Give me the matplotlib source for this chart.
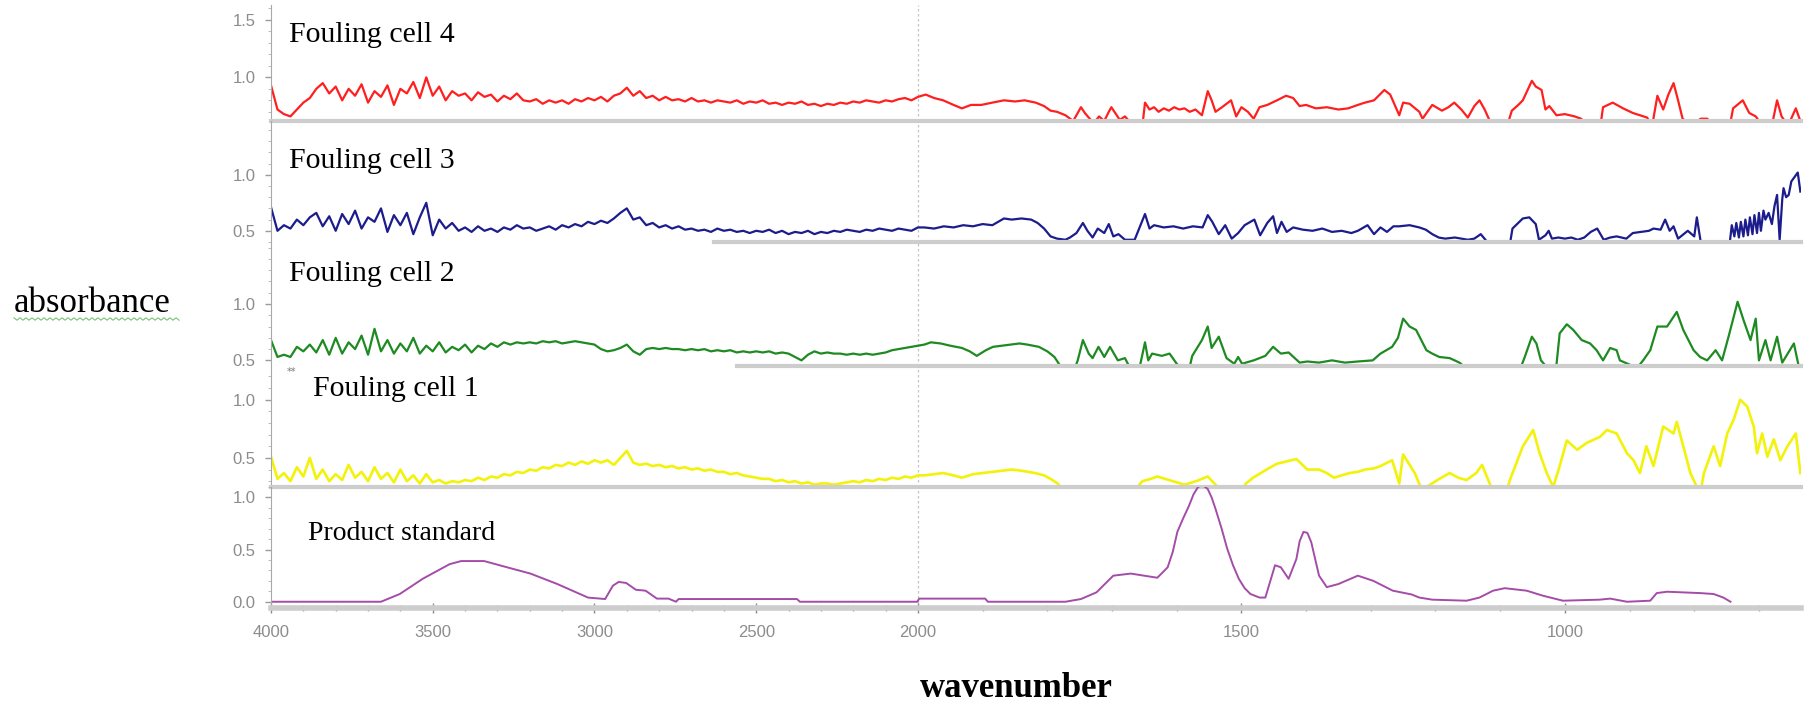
import numpy as np
import matplotlib
matplotlib.use('Agg')
import matplotlib.pyplot as plt
from matplotlib.lines import Line2D
from matplotlib.ticker import MultipleLocator

#############
# data (absorbance vs wavenumber)
#############

# 4000-2000 cm-1 part of the fouling spectra, one value every 20 cm-1
wn_left = np.arange(4000, 1999, -20)

red_left = [0.93, 0.72, 0.68, 0.66, 0.72, 0.78, 0.82, 0.90, 0.95, 0.86,
            0.92, 0.80, 0.90, 0.84, 0.94, 0.78, 0.88, 0.83, 0.93, 0.76,
            0.90, 0.86, 0.96, 0.82, 1.00, 0.84, 0.92, 0.80, 0.88, 0.84,
            0.86, 0.80, 0.87, 0.83, 0.85, 0.79, 0.84, 0.81, 0.86, 0.80,
            0.79, 0.81, 0.77, 0.80, 0.78, 0.80, 0.77, 0.81, 0.79, 0.82,
            0.80, 0.83, 0.79, 0.84, 0.86, 0.91, 0.84, 0.88, 0.82, 0.84,
            0.80, 0.83, 0.80, 0.81, 0.79, 0.82, 0.79, 0.80, 0.78, 0.80,
            0.79, 0.78, 0.80, 0.77, 0.79, 0.78, 0.80, 0.77, 0.78, 0.76,
            0.78, 0.77, 0.79, 0.76, 0.77, 0.75, 0.77, 0.76, 0.78, 0.77,
            0.79, 0.78, 0.80, 0.79, 0.78, 0.80, 0.79, 0.81, 0.82, 0.80,
            0.83]

blue_left = [0.71, 0.50, 0.55, 0.52, 0.60, 0.55, 0.62, 0.66, 0.54, 0.63,
             0.50, 0.65, 0.56, 0.68, 0.52, 0.62, 0.58, 0.70, 0.49, 0.64,
             0.55, 0.66, 0.47, 0.62, 0.75, 0.46, 0.60, 0.52, 0.57, 0.50,
             0.53, 0.49, 0.54, 0.50, 0.52, 0.49, 0.53, 0.51, 0.55, 0.52,
             0.53, 0.50, 0.52, 0.54, 0.51, 0.55, 0.53, 0.56, 0.54, 0.58,
             0.56, 0.59, 0.57, 0.61, 0.66, 0.70, 0.60, 0.62, 0.55, 0.57,
             0.53, 0.55, 0.52, 0.54, 0.51, 0.52, 0.50, 0.51, 0.49, 0.52,
             0.50, 0.51, 0.49, 0.50, 0.48, 0.50, 0.49, 0.51, 0.48, 0.50,
             0.47, 0.49, 0.48, 0.50, 0.47, 0.49, 0.48, 0.50, 0.49, 0.51,
             0.50, 0.49, 0.51, 0.50, 0.52, 0.51, 0.50, 0.52, 0.51, 0.50,
             0.53]

green_left = [0.68, 0.53, 0.55, 0.53, 0.62, 0.58, 0.64, 0.57, 0.68, 0.55,
              0.70, 0.56, 0.66, 0.60, 0.72, 0.55, 0.78, 0.58, 0.68, 0.56,
              0.65, 0.58, 0.70, 0.56, 0.63, 0.58, 0.66, 0.57, 0.62, 0.59,
              0.64, 0.57, 0.63, 0.60, 0.65, 0.62, 0.66, 0.64, 0.66, 0.65,
              0.66, 0.65, 0.67, 0.66, 0.67, 0.65, 0.66, 0.67, 0.66, 0.65,
              0.64, 0.60, 0.58, 0.59, 0.61, 0.64, 0.58, 0.55, 0.60, 0.61,
              0.60, 0.61, 0.60, 0.60, 0.59, 0.60, 0.59, 0.60, 0.58, 0.59,
              0.58, 0.59, 0.57, 0.58, 0.57, 0.58, 0.57, 0.58, 0.56, 0.57,
              0.56, 0.53, 0.50, 0.55, 0.58, 0.56, 0.57, 0.56, 0.56, 0.55,
              0.56, 0.55, 0.56, 0.55, 0.56, 0.57, 0.59, 0.60, 0.61, 0.62,
              0.63]

yellow_left = [0.51, 0.32, 0.37, 0.30, 0.42, 0.34, 0.50, 0.32, 0.40, 0.30,
               0.36, 0.31, 0.44, 0.33, 0.38, 0.30, 0.42, 0.32, 0.37, 0.29,
               0.40, 0.30, 0.35, 0.28, 0.36, 0.29, 0.31, 0.28, 0.30, 0.29,
               0.31, 0.30, 0.33, 0.31, 0.34, 0.33, 0.36, 0.35, 0.38, 0.37,
               0.40, 0.39, 0.42, 0.41, 0.44, 0.43, 0.46, 0.44, 0.47, 0.45,
               0.48, 0.46, 0.48, 0.44, 0.50, 0.56, 0.46, 0.44, 0.45, 0.43,
               0.44, 0.42, 0.43, 0.41, 0.42, 0.40, 0.41, 0.39, 0.40, 0.38,
               0.38, 0.36, 0.37, 0.35, 0.34, 0.33, 0.32, 0.32, 0.30, 0.31,
               0.29, 0.30, 0.28, 0.29, 0.27, 0.28, 0.28, 0.27, 0.28, 0.29,
               0.30, 0.29, 0.31, 0.30, 0.32, 0.31, 0.33, 0.32, 0.34, 0.33,
               0.35]

# below 2000 cm-1: (wavenumber, absorbance) pairs
red_right = [(1988, 0.85), (1975, 0.82), (1961, 0.80), (1945, 0.76), (1932, 0.73), (1918, 0.76), (1902, 0.76), (1885, 0.78), (1867, 0.80), (1850, 0.79),
             (1835, 0.80), (1818, 0.78), (1805, 0.75), (1795, 0.71), (1785, 0.70), (1772, 0.67), (1760, 0.62), (1752, 0.70), (1748, 0.74), (1742, 0.69),
             (1736, 0.65), (1728, 0.60), (1720, 0.66), (1712, 0.62), (1705, 0.70), (1701, 0.74), (1694, 0.68), (1688, 0.63), (1680, 0.66), (1672, 0.61),
             (1660, 0.60), (1653, 0.58), (1649, 0.78), (1642, 0.72), (1635, 0.74), (1628, 0.70), (1620, 0.73), (1612, 0.71), (1604, 0.74), (1596, 0.72),
             (1588, 0.73), (1580, 0.70), (1571, 0.72), (1561, 0.67), (1552, 0.88), (1546, 0.80), (1540, 0.70), (1530, 0.74), (1516, 0.80), (1508, 0.66),
             (1500, 0.74), (1490, 0.70), (1481, 0.64), (1472, 0.74), (1460, 0.76), (1445, 0.80), (1431, 0.84), (1420, 0.82), (1410, 0.75), (1400, 0.76),
             (1385, 0.73), (1368, 0.74), (1350, 0.72), (1335, 0.73), (1320, 0.76), (1309, 0.78), (1295, 0.80), (1279, 0.89), (1270, 0.85), (1256, 0.67),
             (1250, 0.78), (1240, 0.77), (1225, 0.70), (1220, 0.64), (1205, 0.76), (1190, 0.71), (1180, 0.74), (1171, 0.78), (1160, 0.72), (1150, 0.65),
             (1140, 0.75), (1132, 0.80), (1124, 0.72), (1116, 0.62), (1100, 0.58), (1088, 0.60), (1082, 0.71), (1072, 0.76), (1065, 0.80), (1051, 0.97),
             (1045, 0.92), (1036, 0.89), (1030, 0.72), (1024, 0.75), (1013, 0.67), (1000, 0.68), (985, 0.66), (975, 0.64), (965, 0.58), (945, 0.58),
             (941, 0.74), (926, 0.78), (910, 0.73), (895, 0.69), (873, 0.65), (865, 0.58), (857, 0.84), (848, 0.72), (840, 0.85), (832, 0.95),
             (825, 0.80), (818, 0.64), (805, 0.58), (790, 0.64), (780, 0.64), (770, 0.58), (745, 0.58), (740, 0.73), (725, 0.80), (715, 0.69),
             (705, 0.66), (695, 0.58), (680, 0.58), (672, 0.80), (665, 0.66), (655, 0.58), (643, 0.73), (636, 0.62)]

blue_right = [(1990, 0.53), (1975, 0.52), (1960, 0.54), (1945, 0.53), (1930, 0.55), (1915, 0.54), (1900, 0.56), (1885, 0.55), (1867, 0.61), (1855, 0.60),
              (1840, 0.61), (1825, 0.60), (1815, 0.57), (1805, 0.52), (1795, 0.45), (1785, 0.43), (1772, 0.42), (1765, 0.44), (1755, 0.48), (1745, 0.57),
              (1738, 0.50), (1730, 0.44), (1722, 0.52), (1712, 0.48), (1705, 0.56), (1698, 0.45), (1690, 0.47), (1680, 0.42), (1665, 0.42), (1649, 0.65),
              (1642, 0.52), (1635, 0.55), (1620, 0.53), (1605, 0.54), (1590, 0.52), (1575, 0.54), (1560, 0.53), (1552, 0.64), (1545, 0.58), (1535, 0.47),
              (1525, 0.55), (1515, 0.43), (1505, 0.48), (1495, 0.55), (1480, 0.60), (1471, 0.46), (1460, 0.57), (1451, 0.63), (1445, 0.48), (1438, 0.58),
              (1430, 0.49), (1420, 0.53), (1405, 0.51), (1390, 0.50), (1375, 0.52), (1360, 0.49), (1345, 0.50), (1330, 0.48), (1320, 0.50), (1305, 0.55),
              (1295, 0.47), (1285, 0.53), (1275, 0.49), (1265, 0.54), (1256, 0.54), (1240, 0.55), (1225, 0.53), (1215, 0.51), (1205, 0.47), (1195, 0.44),
              (1185, 0.43), (1170, 0.44), (1160, 0.43), (1150, 0.42), (1140, 0.43), (1130, 0.47), (1120, 0.40), (1100, 0.38), (1085, 0.38), (1081, 0.52),
              (1065, 0.61), (1055, 0.62), (1045, 0.56), (1040, 0.42), (1030, 0.46), (1025, 0.50), (1020, 0.43), (1010, 0.44), (1000, 0.43), (990, 0.44),
              (980, 0.42), (970, 0.44), (960, 0.49), (950, 0.52), (940, 0.42), (930, 0.44), (920, 0.45), (905, 0.43), (895, 0.48), (882, 0.49),
              (870, 0.50), (863, 0.52), (852, 0.51), (845, 0.60), (838, 0.50), (832, 0.54), (825, 0.43), (810, 0.50), (800, 0.45), (796, 0.62),
              (790, 0.40), (775, 0.38), (760, 0.38), (745, 0.40), (742, 0.55), (738, 0.45), (735, 0.57), (731, 0.44), (728, 0.58), (724, 0.45),
              (721, 0.60), (717, 0.46), (714, 0.62), (710, 0.47), (707, 0.64), (703, 0.48), (700, 0.66), (697, 0.50), (693, 0.68), (690, 0.60),
              (685, 0.66), (680, 0.56), (676, 0.72), (672, 0.82), (668, 0.42), (664, 0.78), (662, 0.88), (658, 0.80), (654, 0.82), (650, 0.94),
              (645, 0.98), (640, 1.02), (636, 0.85)]

green_right = [(1990, 0.64), (1980, 0.66), (1965, 0.65), (1950, 0.63), (1932, 0.61), (1920, 0.58), (1909, 0.54), (1895, 0.59), (1884, 0.62), (1870, 0.63),
               (1855, 0.64), (1843, 0.65), (1831, 0.64), (1813, 0.62), (1800, 0.58), (1789, 0.53), (1781, 0.46), (1770, 0.42), (1758, 0.42), (1753, 0.50),
               (1745, 0.68), (1736, 0.56), (1730, 0.52), (1721, 0.62), (1712, 0.53), (1703, 0.62), (1691, 0.50), (1680, 0.52), (1672, 0.43), (1658, 0.42),
               (1649, 0.66), (1644, 0.50), (1638, 0.56), (1623, 0.54), (1611, 0.56), (1600, 0.47), (1590, 0.42), (1580, 0.44), (1576, 0.54), (1561, 0.68),
               (1552, 0.80), (1546, 0.61), (1535, 0.71), (1523, 0.52), (1511, 0.47), (1505, 0.53), (1499, 0.47), (1481, 0.50), (1463, 0.54), (1451, 0.62),
               (1439, 0.56), (1427, 0.57), (1410, 0.48), (1398, 0.49), (1380, 0.48), (1360, 0.50), (1340, 0.48), (1320, 0.49), (1297, 0.50), (1285, 0.56),
               (1267, 0.62), (1258, 0.70), (1250, 0.87), (1240, 0.80), (1230, 0.77), (1214, 0.59), (1205, 0.56), (1194, 0.53), (1178, 0.52), (1163, 0.48),
               (1150, 0.42), (1080, 0.42), (1068, 0.44), (1062, 0.53), (1051, 0.71), (1044, 0.65), (1037, 0.50), (1031, 0.46), (1020, 0.42), (1013, 0.46),
               (1008, 0.74), (997, 0.82), (987, 0.77), (974, 0.68), (961, 0.65), (951, 0.59), (941, 0.50), (930, 0.61), (920, 0.59), (915, 0.50),
               (899, 0.46), (890, 0.42), (879, 0.50), (868, 0.59), (857, 0.80), (842, 0.80), (827, 0.93), (817, 0.77), (801, 0.59), (791, 0.53),
               (780, 0.50), (767, 0.59), (757, 0.50), (747, 0.71), (733, 1.02), (724, 0.86), (713, 0.68), (705, 0.87), (700, 0.50), (690, 0.68),
               (682, 0.50), (672, 0.71), (664, 0.48), (646, 0.65), (639, 0.46)]

yellow_right = [(1990, 0.35), (1975, 0.36), (1961, 0.37), (1945, 0.35), (1932, 0.33), (1915, 0.36), (1900, 0.37), (1885, 0.38), (1870, 0.39), (1855, 0.40),
                (1840, 0.39), (1819, 0.37), (1805, 0.35), (1795, 0.32), (1784, 0.28), (1775, 0.22), (1665, 0.22), (1653, 0.30), (1640, 0.32), (1630, 0.34),
                (1618, 0.32), (1606, 0.30), (1588, 0.27), (1570, 0.30), (1552, 0.34), (1540, 0.27), (1530, 0.22), (1500, 0.22), (1493, 0.28), (1482, 0.33),
                (1470, 0.37), (1458, 0.41), (1445, 0.45), (1430, 0.47), (1415, 0.49), (1398, 0.40), (1380, 0.40), (1368, 0.37), (1357, 0.33), (1345, 0.35),
                (1333, 0.37), (1320, 0.38), (1309, 0.40), (1295, 0.41), (1285, 0.43), (1267, 0.48), (1256, 0.28), (1250, 0.53), (1232, 0.37), (1223, 0.25),
                (1214, 0.25), (1194, 0.32), (1178, 0.37), (1165, 0.33), (1152, 0.31), (1137, 0.37), (1128, 0.44), (1114, 0.25), (1100, 0.22), (1090, 0.22),
                (1085, 0.31), (1065, 0.60), (1049, 0.74), (1039, 0.54), (1028, 0.37), (1018, 0.25), (1008, 0.43), (997, 0.65), (981, 0.57), (966, 0.63),
                (946, 0.68), (935, 0.74), (920, 0.71), (904, 0.54), (894, 0.48), (884, 0.37), (874, 0.60), (863, 0.43), (848, 0.77), (832, 0.71),
                (827, 0.81), (817, 0.60), (806, 0.37), (796, 0.25), (790, 0.22), (785, 0.37), (770, 0.60), (760, 0.43), (749, 0.71), (739, 0.83),
                (729, 1.00), (718, 0.94), (708, 0.77), (703, 0.54), (695, 0.71), (687, 0.51), (677, 0.66), (667, 0.48), (656, 0.60), (643, 0.71),
                (636, 0.37)]

product = [(4000, 0.0), (3660, 0.0), (3602, 0.074), (3531, 0.22), (3448, 0.36), (3412, 0.39), (3341, 0.39), (3270, 0.33), (3198, 0.27), (3115, 0.17),
           (3020, 0.04), (2967, 0.026), (2943, 0.154), (2925, 0.19), (2902, 0.18), (2872, 0.115), (2842, 0.106), (2807, 0.03), (2771, 0.03), (2748, 0.0),
           (2740, 0.026), (2374, 0.026), (2365, 0.0), (2002, 0.0), (1998, 0.03), (1896, 0.03), (1892, 0.0), (1772, 0.0), (1748, 0.026), (1724, 0.09),
           (1698, 0.25), (1671, 0.27), (1630, 0.23), (1614, 0.33), (1606, 0.48), (1599, 0.67), (1590, 0.80), (1581, 0.92), (1574, 1.03), (1567, 1.10),
           (1560, 1.12), (1552, 1.08), (1546, 1.00), (1540, 0.89), (1531, 0.71), (1522, 0.51), (1513, 0.35), (1504, 0.22), (1495, 0.13), (1486, 0.074),
           (1472, 0.04), (1463, 0.04), (1448, 0.35), (1439, 0.33), (1427, 0.22), (1415, 0.41), (1410, 0.58), (1404, 0.67), (1398, 0.66), (1392, 0.57),
           (1380, 0.25), (1368, 0.14), (1350, 0.17), (1320, 0.25), (1296, 0.2), (1266, 0.106), (1237, 0.07), (1225, 0.04), (1205, 0.02), (1152, 0.01),
           (1132, 0.04), (1111, 0.106), (1093, 0.13), (1059, 0.106), (1034, 0.058), (1003, 0.01), (946, 0.02), (930, 0.03), (904, 0.0), (868, 0.01),
           (858, 0.083), (842, 0.096), (791, 0.083), (770, 0.074), (755, 0.04), (744, 0.0)]

labels = ['Fouling cell 4', 'Fouling cell 3', 'Fouling cell 2', 'Fouling cell 1', 'Product standard']
colors = ['#ff1f1f', '#1c1c8c', '#1e8a22', '#f2f20a', '#a44ca8']
widths = [1.6, 1.6, 1.6, 1.9, 1.4]
xticks = [4000, 3500, 3000, 2500, 2000, 1500, 1000]


def join(left, right):
    wn_r, ab_r = zip(*right)
    return np.r_[wn_left, wn_r], np.r_[left, ab_r]


spectra = [join(red_left, red_right), join(blue_left, blue_right),
           join(green_left, green_right), join(yellow_left, yellow_right)]
spectra.append(tuple(np.array(v) for v in zip(*product)))


# OMNIC style axis: below 2000 cm-1 drawn at twice the scale of 4000-2000
def fwd(x):
    x = np.asarray(x, dtype=float)
    return np.where(x >= 2000, x, 2 * x - 2000)


def inv(p):
    p = np.asarray(p, dtype=float)
    return np.where(p >= 2000, p, (p + 2000) / 2)


#############
# figure
#############
W, H = 1805, 704
fig = plt.figure(figsize=(W / 100, H / 100), dpi=100)
left_px, right_px = 271, 1801
bands = [(5, 121), (121, 242), (242, 366), (366, 487), (487, 608)]
ylims = [(0.62, 1.63), (0.40, 1.48), (0.45, 1.55), (0.25, 1.29), (-0.06, 1.10)]
yticks = [[1.0, 1.5], [0.5, 1.0], [0.5, 1.0], [0.5, 1.0], [0.0, 0.5, 1.0]]
spine_start = [None, 2629, 2558, None, None]
grey = '#8c8c8c'

for k in range(5):
    top, bot = bands[k]
    ax = fig.add_axes([left_px / W, 1 - bot / H, (right_px - left_px) / W, (bot - top) / H])
    ax.patch.set_alpha(0)
    ax.set_xscale('function', functions=(fwd, inv))
    ax.set_xlim(4000, 635)
    ax.set_ylim(*ylims[k])
    wn, ab = spectra[k]
    ax.plot(wn, ab, color=colors[k], lw=widths[k])
    ax.axvline(2000, color='#c4c4c4', lw=0.9, ls=(0, (2, 2)), zorder=0)

    ax.spines['top'].set_visible(False)
    ax.spines['right'].set_visible(False)
    ax.spines['left'].set_color('#a8a8a8')
    ax.spines['bottom'].set_color('#cdcdcd')
    ax.spines['bottom'].set_linewidth(3 if k < 4 else 4)
    if spine_start[k]:
        ax.spines['bottom'].set_bounds(spine_start[k], 635)

    ax.set_yticks(yticks[k])
    ax.set_yticklabels(['%.1f' % t for t in yticks[k]])
    ax.yaxis.set_minor_locator(MultipleLocator(0.1))
    ax.tick_params(axis='y', which='major', direction='out', length=4, width=1, color='#9a9a9a',
                   labelcolor=grey, labelsize=12, pad=7)
    ax.tick_params(axis='y', which='minor', direction='out', length=2, color='#b0b0b0')
    for t in ax.get_yticklabels():
        t.set_family('Liberation Sans')

    if k < 4:
        ax.tick_params(axis='x', which='both', bottom=False, labelbottom=False)
    else:
        ax.set_xticks(xticks)
        ax.set_xticklabels([str(t) for t in xticks])
        ax.set_xticks(np.arange(3900, 640, -100), minor=True)
        ax.tick_params(axis='x', which='major', direction='inout', length=7, width=1, color='#8a8a8a',
                       labelcolor=grey, labelsize=12, pad=9)
        ax.tick_params(axis='x', which='minor', direction='inout', length=4, width=1, color='#9a9a9a')
        for t in ax.get_xticklabels():
            t.set_family('Liberation Sans')

# panel captions
caption_pos = [(289, 42), (289, 168), (289, 281), (313, 396), (308, 540)]
for (px, py), lab in zip(caption_pos, labels):
    fig.text(px / W, 1 - py / H, lab, family='Liberation Serif', va='baseline',
             fontsize=20 if lab.startswith('Product') else 21.5)
fig.text(287 / W, 1 - 372 / H, '**', fontsize=7, color='#777777', va='center')

# axis titles
fig.text(14 / W, 1 - 303 / H, 'absorbance', family='Liberation Serif', fontsize=25, va='center')
fig.text(1016 / W, 1 - 697 / H, 'wavenumber', family='Liberation Serif', fontsize=25,
         fontweight='bold', ha='center', va='baseline')

# spell-check squiggle under "absorbance"
sx = np.arange(14, 180, 3)
sy = 319 + np.where(np.arange(len(sx)) % 2 == 0, -1.2, 1.2)
fig.add_artist(Line2D(sx / W, 1 - sy / H, color='#79c079', lw=0.8))

fig.savefig('out.png', dpi=100)
